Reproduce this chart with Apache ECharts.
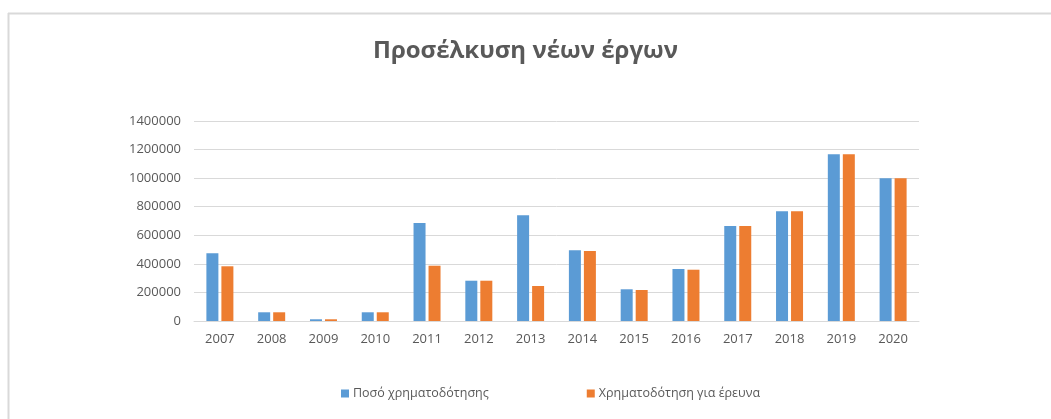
<!DOCTYPE html>
<html>
<head>
<meta charset="utf-8">
<script src="https://cdn.jsdelivr.net/npm/echarts@6/dist/echarts.min.js"></script>
<style>
html,body{margin:0;padding:0;background:#fff;}
#chart{width:1051px;height:419px;}
</style>
</head>
<body>
<div id="chart"></div>
<script>
const categories = ['2007','2008','2009','2010','2011','2012','2013','2014','2015','2016','2017','2018','2019','2020'];
const posoChrimatodotisis = [474000, 61000, 12000, 61000, 686000, 282000, 740000, 495000, 222000, 364000, 665000, 768000, 1167000, 1000000];
const chrimatodotisiEreuna = [383000, 61000, 12000, 61000, 387000, 282000, 245000, 490000, 217000, 359000, 665000, 768000, 1167000, 1000000];
const seriesNames = ['Ποσό χρηματοδότησης', 'Χρηματοδότηση για έρευνα'];
const titleText = 'Προσέλκυση νέων έργων';

const font = '"Open Sans", "Noto Sans", sans-serif';
const chart = echarts.init(document.getElementById('chart'), null, {renderer: 'canvas'});
chart.setOption({
  animation: false,
  backgroundColor: '#ffffff',
  title: {
    text: titleText,
    left: 'center',
    top: 34,
    textStyle: {fontFamily: font, fontSize: 24, fontWeight: 'bold', color: '#595959'}
  },
  graphic: [
    {type: 'line', shape: {x1: 8, y1: 13.5, x2: 1051, y2: 13.5}, style: {stroke: '#d9d9d9', lineWidth: 2}},
    {type: 'line', shape: {x1: 8.5, y1: 13, x2: 8.5, y2: 419}, style: {stroke: '#d9d9d9', lineWidth: 2}}
  ],
  legend: {
    left: 336,
    top: 382,
    itemWidth: 8,
    itemHeight: 8,
    itemGap: 98,
    icon: 'rect',
    textStyle: {fontFamily: font, fontSize: 12.5, color: '#595959', padding: [0,0,0,-1]},
    data: seriesNames
  },
  grid: {left: 194, right: 132, top: 121, bottom: 98, containLabel: false},
  xAxis: {
    type: 'category',
    data: categories,
    axisLine: {lineStyle: {color: '#d9d9d9', width: 1}},
    axisTick: {show: false},
    axisLabel: {fontFamily: font, fontSize: 13, color: '#595959', margin: 12}
  },
  yAxis: {
    type: 'value',
    min: 0,
    max: 1400000,
    interval: 200000,
    axisLine: {show: false},
    axisTick: {show: false},
    splitLine: {lineStyle: {color: '#d9d9d9', width: 1}},
    axisLabel: {fontFamily: font, fontSize: 13, color: '#595959', margin: 13,
      formatter: function (v) { return String(v); }}
  },
  series: [
    {name: seriesNames[0], type: 'bar', data: posoChrimatodotisis, barWidth: 12, barGap: '25%',
     itemStyle: {color: '#5b9bd5'}},
    {name: seriesNames[1], type: 'bar', data: chrimatodotisiEreuna, barWidth: 12, barGap: '25%',
     itemStyle: {color: '#ed7d31'}}
  ]
});
</script>
</body>
</html>
